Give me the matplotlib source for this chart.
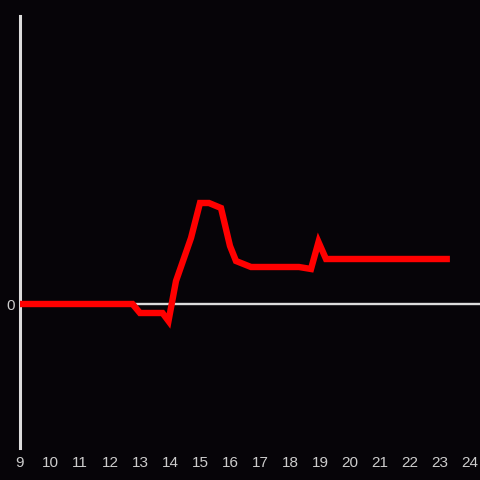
import matplotlib
matplotlib.use("Agg")
import matplotlib.pyplot as plt

hours = [9, 12.75, 13.0, 13.75, 13.95, 14.2, 14.7, 15.0, 15.3, 15.7, 16.0, 16.2,
         16.7, 18.3, 18.7, 18.95, 19.2, 23.33]
values = [0, 0, -9, -9, -17, 23, 66, 101, 101, 96, 58, 43,
          37, 37, 35, 62, 45, 45]
xticks = list(range(9, 25))

bg = "#060408"
fg = "#dcdcdc"

fig = plt.figure(figsize=(4.8, 4.8), dpi=100, facecolor=bg)
ax = fig.add_axes([20/480, 32/480, 460/480, 432/480], facecolor=bg)
ax.set_xlim(9, 9 + 460/30)
ax.set_ylim(-144, 288)

ax.axhline(0, color=fg, lw=1.7, zorder=1)
ax.plot(hours, values, color="#ff0000", lw=4.6, solid_joinstyle="miter",
        solid_capstyle="butt", zorder=3, clip_on=False)

for s in ["top", "right", "bottom"]:
    ax.spines[s].set_visible(False)
ax.spines["left"].set_color(fg)
ax.spines["left"].set_linewidth(2.2)
ax.spines["left"].set_zorder(2)

ax.set_xticks(xticks)
ax.set_xticklabels([str(t) for t in xticks])
ax.set_yticks([0])
ax.set_yticklabels(["0"])
ax.tick_params(axis="both", length=0, colors="#cccccc", labelsize=11)
ax.tick_params(axis="x", pad=5.5)
ax.tick_params(axis="y", pad=4)
for lbl in ax.get_xticklabels() + ax.get_yticklabels():
    lbl.set_fontfamily("Liberation Sans")

fig.savefig("out.png", dpi=100, facecolor=bg)
